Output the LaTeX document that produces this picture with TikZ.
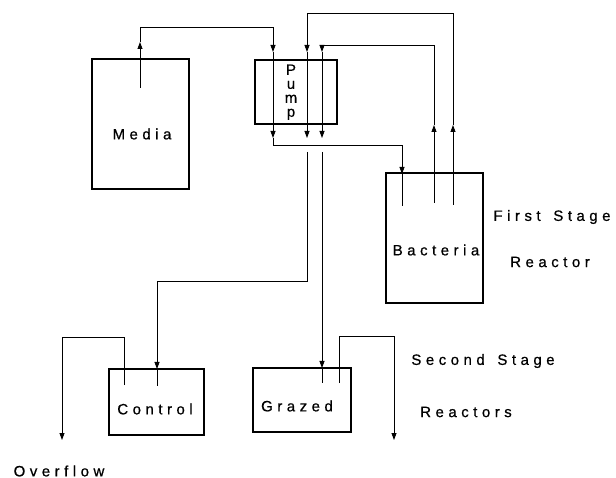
\documentclass[tikz,border=0pt]{standalone}
\usepackage{fontspec}
\setmainfont{Liberation Sans}[LetterSpace=30,FakeBold=0.6]
\usetikzlibrary{arrows.meta}
\begin{document}
\begin{tikzpicture}[x=1pt,y=-1pt,
  box/.style={draw, line width=1.2pt, inner sep=0pt, outer sep=0pt},
  wire/.style={line width=0.8pt},
  arr/.style={wire,-{Triangle[length=7pt,width=5pt]}},
  lbl/.style={font=\fontsize{15}{18}\selectfont, inner sep=0pt}]
\useasboundingbox (0,0) rectangle (616,478);
% boxes
\node[box, minimum width=97pt, minimum height=130pt] (media) at (140.5,124) {};
\node[box, minimum width=82pt, minimum height=64pt] (pump) at (296,92) {};
\node[box, minimum width=97pt, minimum height=130pt] (bact) at (434.5,238) {};
\node[box, minimum width=95pt, minimum height=66pt] (ctrl) at (156.5,402) {};
\node[box, minimum width=98pt, minimum height=64pt] (graz) at (302,400) {};
% labels
\node[lbl] (tmedia) at (142,134) {Media};
\node[lbl, align=center, anchor=north, font=\fontsize{15}{14}\selectfont] (tpump) at (291,64.3) {P\\u\\m\\p};
\node[lbl] (tbact) at (436,250) {Bacteria};
\node[lbl] (tfirst) at (552,217) {First\hspace{4pt} Stage};
\node[lbl] (treact) at (550,262) {Reactor};
\node[lbl] (tctrl) at (155,409) {Control};
\node[lbl] (tgraz) at (297,406) {Grazed};
\node[lbl] (tsecond) at (483,361) {Second\hspace{4pt} Stage};
\node[lbl] (treacts) at (466,412) {Reactors};
\node[lbl] (tover) at (59,471) {Overflow};
% coordinates
\coordinate (m0) at (140,88);
\coordinate (m1) at (140,42);
\coordinate (m2) at (140,27);
\coordinate (a0) at (273,27);
\coordinate (a1) at (273,52);
\coordinate (a2) at (273,138);
\coordinate (a3) at (273,145);
\coordinate (a4) at (402,145);
\coordinate (a5) at (402,174);
\coordinate (a6) at (402,206);
\coordinate (b0) at (453,205);
\coordinate (b1) at (453,125);
\coordinate (b2) at (453,13);
\coordinate (b3) at (307,13);
\coordinate (b4) at (307,52);
\coordinate (b5) at (307,138);
\coordinate (b6) at (307,152);
\coordinate (b7) at (307,281);
\coordinate (b8) at (157,281);
\coordinate (b9) at (157,369);
\coordinate (b10) at (157,386);
\coordinate (c0) at (434,203);
\coordinate (c1) at (434,125);
\coordinate (c2) at (434,45);
\coordinate (c3) at (322,45);
\coordinate (c4) at (322,52);
\coordinate (c5) at (322,138);
\coordinate (c6) at (322,152);
\coordinate (c7) at (322,368);
\coordinate (c8) at (322,383);
\coordinate (d0) at (124,385);
\coordinate (d1) at (124,337);
\coordinate (d2) at (62,337);
\coordinate (d3) at (62,440);
\coordinate (e0) at (339,383);
\coordinate (e1) at (339,336);
\coordinate (e2) at (394,336);
\coordinate (e3) at (394,440);
% media to pump to bacteria
\draw[arr] (m0) -- (m1);
\draw[arr] (m1) -- (m2) -- (a0) -- (a1);
\draw[arr] (a1) -- (a2);
\draw[arr] (a2) -- (a3) -- (a4) -- (a5);
\draw[wire] (a5) -- (a6);
% bacteria to pump to control
\draw[arr] (b0) -- (b1);
\draw[arr] (b1) -- (b2) -- (b3) -- (b4);
\draw[arr] (b4) -- (b5);
\draw[arr] (b6) -- (b7) -- (b8) -- (b9);
\draw[wire] (b9) -- (b10);
% bacteria to pump to grazed
\draw[arr] (c0) -- (c1);
\draw[arr] (c1) -- (c2) -- (c3) -- (c4);
\draw[arr] (c4) -- (c5);
\draw[arr] (c6) -- (c7);
\draw[wire] (c7) -- (c8);
% overflows
\draw[arr] (d0) -- (d1) -- (d2) -- (d3);
\draw[arr] (e0) -- (e1) -- (e2) -- (e3);
\end{tikzpicture}
\end{document}
